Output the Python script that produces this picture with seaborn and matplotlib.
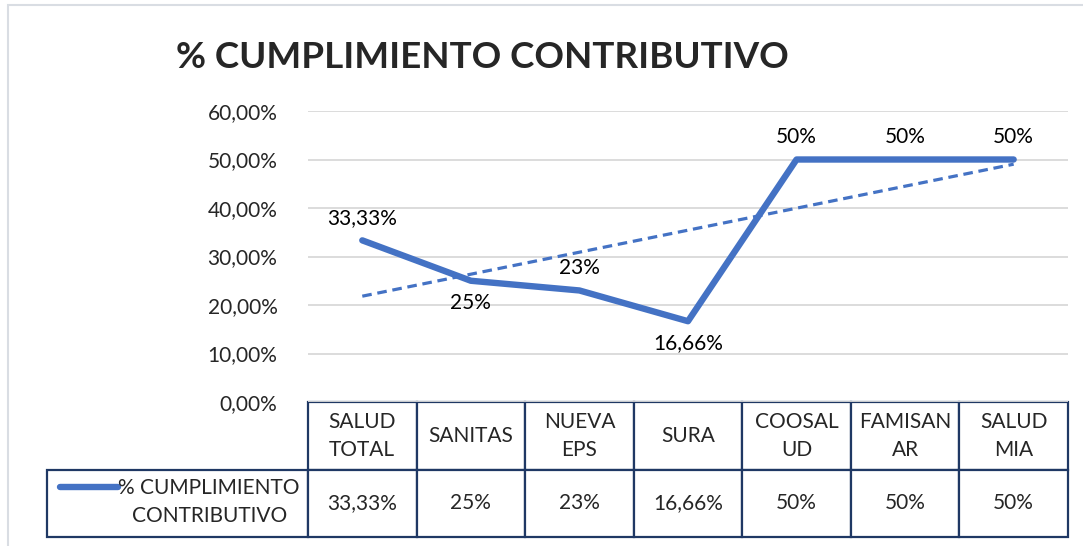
import numpy as np
import pandas as pd
import matplotlib
matplotlib.use('Agg')
import matplotlib.pyplot as plt
import matplotlib.patches as mpatches
from matplotlib.lines import Line2D
from matplotlib.ticker import FuncFormatter, MultipleLocator
import seaborn as sns

# data
eps = ['SALUD\nTOTAL', 'SANITAS', 'NUEVA\nEPS', 'SURA', 'COOSAL\nUD', 'FAMISAN\nAR', 'SALUD\nMIA']
cumplimiento = [33.33, 25, 23, 16.66, 50, 50, 50]
serie = '% CUMPLIMIENTO\nCONTRIBUTIVO'
titulo = '% CUMPLIMIENTO CONTRIBUTIVO'
label_side = ['above', 'below', 'above', 'below', 'above', 'above', 'above']

blue = '#4472C4'
navy = '#1F3864'


def pct(v):
    return f'{v:g}'.replace('.', ',') + '%'


sns.set_style('white')
plt.rcParams['font.family'] = ['Lato', 'DejaVu Sans']

df = pd.DataFrame({'pos': range(len(eps)), 'valor': cumplimiento})

fig = plt.figure(figsize=(10.83, 5.46), dpi=100)
ax = fig.add_axes([0.2844, 0.2637, 0.7017, 0.533])

sns.lineplot(data=df, x='pos', y='valor', ax=ax, color=blue, lw=4.6, zorder=3)
# linear trendline like excel
sns.regplot(data=df, x='pos', y='valor', ci=None, scatter=False, ax=ax,
            color=blue, line_kws=dict(ls=(0, (3, 1.8)), lw=2.3, zorder=4))

for i, (v, side) in enumerate(zip(cumplimiento, label_side)):
    dy = 16 if side == 'above' else -16
    ax.annotate(pct(v), (i, v), xytext=(0, dy), textcoords='offset points',
                ha='center', va='center', fontsize=15, color='black')

ax.set_ylim(0, 60)
ax.set_xlim(-0.5, len(eps) - 0.5)
ax.yaxis.set_major_locator(MultipleLocator(10))
ax.yaxis.set_major_formatter(FuncFormatter(lambda v, p: f'{v:.2f}'.replace('.', ',') + '%'))
ax.grid(axis='y', color='#D9D9D9', lw=1.3)
ax.set_axisbelow(True)
ax.tick_params(axis='y', length=0, pad=22, labelsize=15)
ax.set_xticks([])
ax.set(xlabel='', ylabel='')
sns.despine(ax=ax, left=True, bottom=True)

# data table under the chart (bbox covers only the data columns)
lab_w = 261 / 760
tbl = ax.table(cellText=[[pct(v) for v in cumplimiento]],
               colLabels=eps, cellLoc='center',
               colWidths=[1 / len(eps)] * len(eps),
               bbox=[0, -0.464, 1, 0.464])
h = tbl[(1, 0)].get_height()
tbl.add_cell(1, -1, width=lab_w, height=h, text='', loc='center')
tbl.auto_set_font_size(False)
tbl.set_fontsize(15)
for (r, c), cell in tbl.get_celld().items():
    cell.set_edgecolor(navy)
    cell.set_linewidth(1.6)
    cell.get_text().set_linespacing(1.5)

ax.add_line(Line2D([-0.326, -0.250], [-0.292, -0.292], transform=ax.transAxes,
                   color=blue, lw=4.6, solid_capstyle='round', clip_on=False))
ax.text(-0.130, -0.345, serie, transform=ax.transAxes, ha='center', va='center',
        multialignment='center', fontsize=15, linespacing=1.5)

fig.text(482 / 1083, 1 - 58 / 546, titulo, ha='center', va='center',
         fontsize=26.5, fontweight='bold')

fig.patches.append(mpatches.Rectangle((8 / 1083, -0.5), 2, 0.9908 + 0.5,
                                      transform=fig.transFigure, fill=False,
                                      ec='#D9DDE3', lw=1.5))

fig.savefig('out.png', dpi=100)
